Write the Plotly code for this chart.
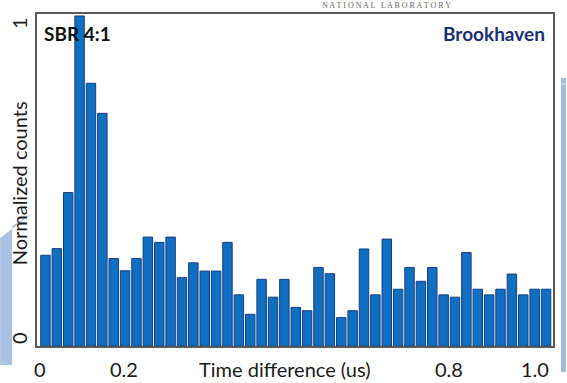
import plotly.graph_objects as go

# Normalized coincidence counts per time-difference bin (45 bins over 0..1 us)
n_bins = 45
counts = [0.275, 0.295, 0.465, 1.0, 0.796, 0.705, 0.265, 0.228, 0.265, 0.33,
          0.314, 0.33, 0.207, 0.252, 0.227, 0.227, 0.314, 0.155, 0.096, 0.202,
          0.148, 0.202, 0.117, 0.107, 0.238, 0.219, 0.086, 0.107, 0.294, 0.155,
          0.324, 0.172, 0.238, 0.196, 0.238, 0.155, 0.148, 0.283, 0.172, 0.155,
          0.172, 0.218, 0.155, 0.172, 0.172]
bin_centers = [(i + 0.5) / n_bins for i in range(n_bins)]

# Axis labels
x_tick_text = ["0", "0.2", "0.8", "1.0"]
x_tick_pos = [0.0, 0.164, 0.8, 0.968]
y_tick_text = ["0", "1"]
y_tick_pos = [0.024, 0.979]

FONT = "Lato"
BAR_FILL = "#0f6fc3"
BAR_EDGE = "#173c7c"
FRAME = "#5a5a5a"

fig = go.Figure(
    go.Bar(
        x=bin_centers,
        y=counts,
        marker=dict(color=BAR_FILL, line=dict(color=BAR_EDGE, width=1)),
        hoverinfo="skip",
    )
)

W, H = 567, 383
ML, MR, MT, MB = 37, 12, 14, 37
PW, PH = W - ML - MR, H - MT - MB


def px_to_paper(px, py):
    return (px - ML) / PW, (H - MB - py) / PH


annotations = []
# x tick labels
for t, p in zip(x_tick_text, x_tick_pos):
    annotations.append(dict(
        x=p, xref="x", y=0, yref="paper", yshift=-23,
        text=t, showarrow=False, xanchor="center", yanchor="middle",
        font=dict(family=FONT, size=20, color="#1a1a1a"),
    ))
# y tick labels (rotated)
for t, p in zip(y_tick_text, y_tick_pos):
    annotations.append(dict(
        x=0, xref="paper", xshift=-18, y=p, yref="y",
        text=t, showarrow=False, textangle=-90,
        xanchor="center", yanchor="middle",
        font=dict(family=FONT, size=20, color="#1a1a1a"),
    ))
# axis titles
annotations.append(dict(
    x=(285 - ML) / PW, xref="paper", y=0, yref="paper", yshift=-23,
    text="Time difference (us)", showarrow=False,
    xanchor="center", yanchor="middle",
    font=dict(family=FONT, size=20, color="#1a1a1a"),
))
annotations.append(dict(
    x=0, xref="paper", xshift=-18, y=0.49, yref="paper",
    text="Normalized counts", showarrow=False, textangle=-90,
    xanchor="center", yanchor="middle",
    font=dict(family=FONT, size=20, color="#1a1a1a"),
))
# in-plot labels
annotations.append(dict(
    x=px_to_paper(42, 0)[0], xref="paper", y=px_to_paper(0, 33)[1], yref="paper",
    text="<b>SBR 4:1</b>", showarrow=False, xanchor="left", yanchor="middle",
    font=dict(family=FONT, size=19, color="#111111"),
))
annotations.append(dict(
    x=px_to_paper(549, 0)[0], xref="paper", y=px_to_paper(0, 33)[1], yref="paper",
    text="<b>Brookhaven</b>", showarrow=False, xanchor="right", yanchor="middle",
    font=dict(family=FONT, size=19, color="#1b2f6e"),
))
# small lab name along the top edge
annotations.append(dict(
    x=px_to_paper(388, 0)[0], xref="paper", y=px_to_paper(0, 0)[1], yref="paper",
    text="N A T I O N A L   L A B O R A T O R Y", showarrow=False,
    xanchor="center", yanchor="top", borderpad=0,
    font=dict(family="Liberation Serif", size=8, color="#666666"),
))

# light-blue page decorations at the sides
x0, y0 = px_to_paper(0, 365)
x1, y1 = px_to_paper(12, 226)
xa, ya = px_to_paper(34, 212)
shapes = [
    dict(type="path", xref="paper", yref="paper", layer="below",
         path=f"M {x0},{y0} L {x1},{y0} L {x1},{y1} L {xa},{ya} L {x0},{px_to_paper(0,238)[1]} Z",
         fillcolor="#a9c2e4", line=dict(width=0)),
    dict(type="rect", xref="paper", yref="paper", layer="below",
         x0=px_to_paper(563, 0)[0], x1=px_to_paper(568, 0)[0],
         y0=px_to_paper(0, 372)[1], y1=px_to_paper(0, 78)[1],
         fillcolor="#9fbbe0", line=dict(width=0)),
    dict(type="line", xref="paper", yref="paper", layer="below",
         x0=px_to_paper(563, 0)[0], x1=px_to_paper(568, 0)[0],
         y0=px_to_paper(0, 84)[1], y1=px_to_paper(0, 84)[1],
         line=dict(color="#e8eef8", width=1)),
]

fig.update_layout(
    width=W, height=H,
    margin=dict(l=ML, r=MR, t=MT, b=MB, pad=0),
    paper_bgcolor="white", plot_bgcolor="white",
    bargap=0.17,
    showlegend=False,
    annotations=annotations,
    shapes=shapes,
    xaxis=dict(range=[-0.0054, 1.0025], showgrid=False, zeroline=False,
               showticklabels=False, ticks="",
               showline=True, mirror=True, linecolor=FRAME, linewidth=1.5),
    yaxis=dict(range=[0, 1.006], showgrid=False, zeroline=False,
               showticklabels=False, ticks="",
               showline=True, mirror=True, linecolor=FRAME, linewidth=1.5),
)

fig.write_html("out.html")
